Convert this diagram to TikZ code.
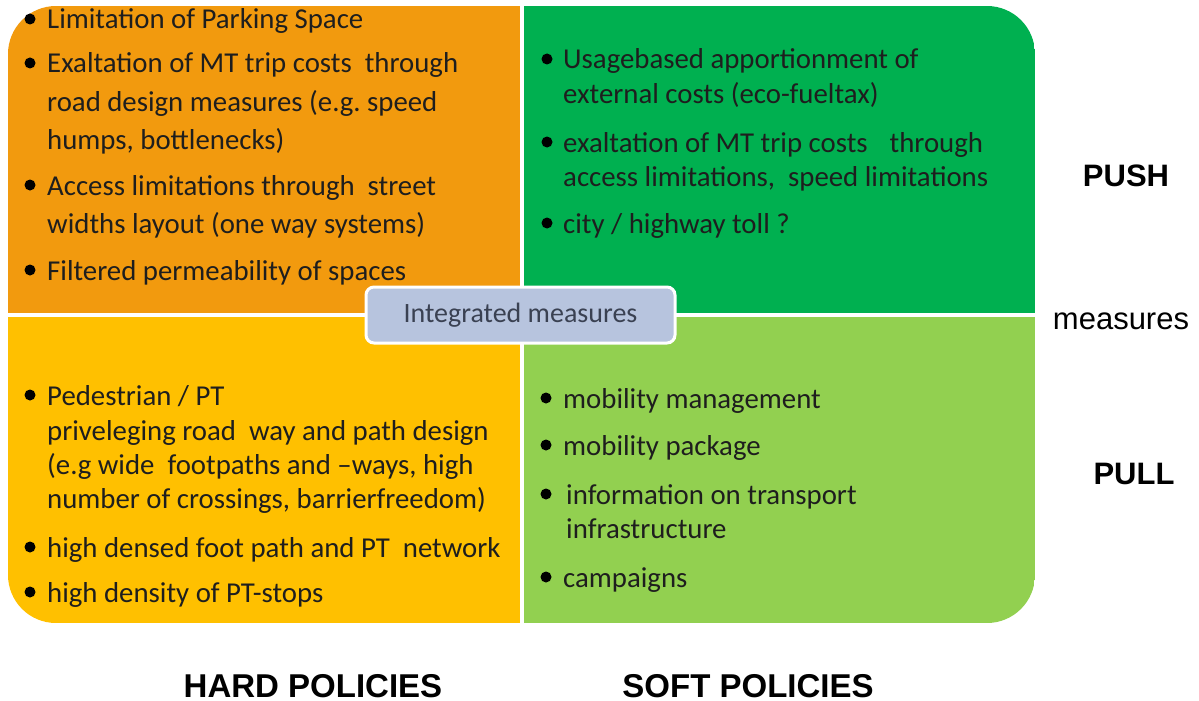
\documentclass[tikz,border=0pt]{standalone}
\usepackage{fontspec}
\setmainfont{Carlito}
\newfontfamily\labelfont{Liberation Sans}
\definecolor{pushhard}{HTML}{F29A0E}
\definecolor{pushsoft}{HTML}{00B050}
\definecolor{pullhard}{HTML}{FFC000}
\definecolor{pullsoft}{HTML}{92D050}
\definecolor{midbox}{HTML}{B7C4DE}
\definecolor{midtext}{HTML}{3A4152}
\definecolor{ink}{HTML}{1E1E1E}
\begin{document}
\begin{tikzpicture}[x=1pt,y=-1pt,
  item/.style={anchor=base west, inner sep=0pt, text=ink, font=\fontsize{28.8}{32}\selectfont},
  dotmark/.style={circle, fill=black, inner sep=0pt, minimum size=11pt},
  sidelabel/.style={anchor=base, inner sep=0pt, text=black, font=\labelfont\fontsize{31}{34}\selectfont},
  axislabel/.style={anchor=base, inner sep=0pt, text=black, font=\labelfont\bfseries\fontsize{31}{34}\selectfont},
  policylabel/.style={anchor=base, inner sep=0pt, text=black, font=\labelfont\bfseries\fontsize{33}{36}\selectfont}]
\useasboundingbox (0,0) rectangle (1199,701);
\fill[white] (0,0) rectangle (1199,701);

% four quadrants inside one rounded frame
\begin{scope}
  \clip[rounded corners=48pt] (8,6) rectangle (1035,623);
  \fill[pushhard] (8,6) rectangle (520,313);
  \fill[pushsoft] (524,6) rectangle (1035,313);
  \fill[pullhard] (8,317) rectangle (520,623);
  \fill[pullsoft] (524,317) rectangle (1035,623);
\end{scope}

% hard push measures
\node[dotmark] (d11) at (30,19) {};
\node[item] (t11) at (47,29) {Limitation of Parking Space};
\node[dotmark] (d12) at (30,63) {};
\node[item] (t12) at (47,73) {Exaltation of MT trip costs\ \ through};
\node[item] (t13) at (47,111) {road design\ measures (e.g.\ speed};
\node[item] (t14) at (47,149) {humps, bottlenecks)};
\node[dotmark] (d15) at (30,185) {};
\node[item] (t15) at (47,195) {Access limitations through\ \ street};
\node[item] (t16) at (47,233) {widths layout (one\ way\ systems)};
\node[dotmark] (d17) at (30,270) {};
\node[item] (t17) at (47,280) {Filtered permeability of spaces};

% soft push measures
\node[dotmark] (d21) at (547,59) {};
\node[item] (t21) at (563,69) {Usagebased apportionment of};
\node[item] (t22) at (563,103) {external costs (eco-fueltax)};
\node[dotmark] (d23) at (547,142) {};
\node[item] (t23) at (563,152) {exaltation of MT trip costs\hspace{22pt}through};
\node[item] (t24) at (563,186) {access limitations,\ \ speed\ limitations};
\node[dotmark] (d25) at (547,223) {};
\node[item] (t25) at (563,233) {city / highway toll ?};

% hard pull measures
\node[dotmark] (d31) at (30,395) {};
\node[item] (t31) at (47,405) {Pedestrian / PT};
\node[item] (t32) at (47,440) {priveleging road\ \ way and path\ design};
\node[item] (t33) at (47,474) {(e.g wide\ \ footpaths\ and –ways, high};
\node[item] (t34) at (47,508) {number\ of crossings,\ barrierfreedom)};
\node[dotmark] (d35) at (30,547) {};
\node[item] (t35) at (47,557) {high densed foot path and PT\ \ network};
\node[dotmark] (d36) at (30,592) {};
\node[item] (t36) at (47,602) {high density of PT-stops};

% soft pull measures
\node[dotmark] (d41) at (546,398) {};
\node[item] (t41) at (563,408) {mobility management};
\node[dotmark] (d42) at (546,445) {};
\node[item] (t42) at (563,455) {mobility package};
\node[dotmark] (d43) at (546,494) {};
\node[item] (t43) at (566,504) {information on transport};
\node[item] (t44) at (566,538) {infrastructure};
\node[dotmark] (d45) at (546,577) {};
\node[item] (t45) at (563,587) {campaigns};

% centre label
\node[rounded corners=8pt, fill=midbox, draw=white, line width=3pt,
      minimum width=309pt, minimum height=56pt, inner sep=0pt,
      text=midtext, font=\fontsize{28}{30}\selectfont] (mid) at (520.5,315) {Integrated measures};

% axis labels
\node[axislabel] (push) at (1126,186) {PUSH};
\node[sidelabel] (meas) at (1121,329) {measures};
\node[axislabel] (pull) at (1134,484) {PULL};
\node[policylabel] (hard) at (313,697) {HARD POLICIES};
\node[policylabel] (soft) at (748,697) {SOFT POLICIES};
\end{tikzpicture}
\end{document}
